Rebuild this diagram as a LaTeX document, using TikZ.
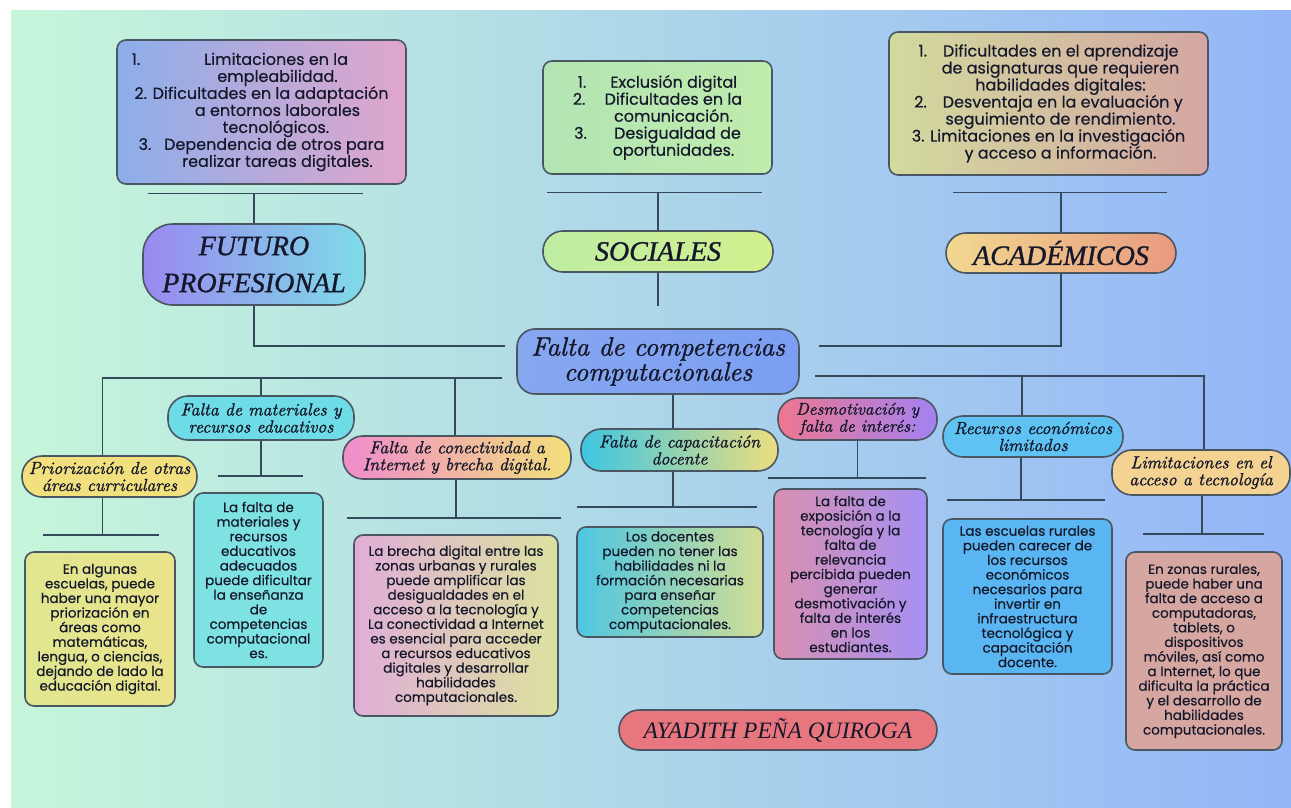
\documentclass[tikz,border=0pt]{standalone}
\usepackage{fontspec}
\usepackage{tikz}
\usetikzlibrary{positioning}
\newfontfamily\bodyfont[FakeBold=0.4]{Poppins}
\newfontfamily\capsfont[FakeBold=1]{Liberation Serif}
\newfontfamily\authfont{Liberation Serif}
\newfontfamily\garfont[FakeBold=1.2]{lmroman10-italic.otf}

\definecolor{bgl}{HTML}{C6F6DA}
\definecolor{bgm}{HTML}{B4DDE8}
\definecolor{bgr}{HTML}{94B6F8}
\definecolor{edgec}{HTML}{4A5662}
\definecolor{linec}{HTML}{34495A}
\definecolor{inkc}{HTML}{15182A}
% box colours
\definecolor{futL}{HTML}{8CAEEA}\definecolor{futR}{HTML}{E0A6CC}
\definecolor{futpL}{HTML}{9A88F0}\definecolor{futpR}{HTML}{7EDCE8}
\definecolor{socL}{HTML}{B2E4B4}\definecolor{socR}{HTML}{C0ECAC}
\definecolor{socpL}{HTML}{BEEDA2}\definecolor{socpR}{HTML}{D2F08E}
\definecolor{acaL}{HTML}{D2DA9E}\definecolor{acaR}{HTML}{D4A6A2}
\definecolor{acapL}{HTML}{F2D890}\definecolor{acapR}{HTML}{E89A80}
\definecolor{ctrL}{HTML}{86A8F0}\definecolor{ctrR}{HTML}{7C9EF2}
\definecolor{priP}{HTML}{F2E07E}\definecolor{priL}{HTML}{E0E690}\definecolor{priR}{HTML}{EAE48A}
\definecolor{matP}{HTML}{6EDCE6}\definecolor{matD}{HTML}{7EE2E2}
\definecolor{conpL}{HTML}{F08CCC}\definecolor{conpR}{HTML}{F2E07A}
\definecolor{conL}{HTML}{E0AED8}\definecolor{conR}{HTML}{DCE29E}
\definecolor{cappL}{HTML}{3EC6E2}\definecolor{cappR}{HTML}{ECDE7E}
\definecolor{capL}{HTML}{4EC6E2}\definecolor{capR}{HTML}{D2DE94}
\definecolor{despL}{HTML}{EE7690}\definecolor{despR}{HTML}{A282F2}
\definecolor{desL}{HTML}{D890B0}\definecolor{desR}{HTML}{A690F4}
\definecolor{recP}{HTML}{5EC2F2}\definecolor{recD}{HTML}{5AB6F2}
\definecolor{limP}{HTML}{F4D292}\definecolor{limD}{HTML}{D6A6A0}
\definecolor{autP}{HTML}{E8767E}

\begin{document}
\begin{tikzpicture}[x=1pt, y=-1pt,
  bar/.style={draw=linec, line width=1.4pt},
  card/.style={draw=edgec, line width=1.6pt, rounded corners=9pt, align=center, inner sep=3pt,
    text=inkc, font=\bodyfont\fontsize{13.5}{14.6}\selectfont},
  topcard/.style={card, font=\bodyfont\fontsize{16}{17}\selectfont},
  pill/.style={draw=edgec, line width=1.6pt, rounded corners=20pt, align=center, inner sep=2pt,
    text=inkc, font=\garfont\fontsize{17.5}{17}\selectfont},
  head/.style={pill, font=\capsfont\fontsize{28}{37}\selectfont\itshape}
]
\useasboundingbox (0,0) rectangle (1291,808);
\fill[left color=bgl, middle color=bgm, right color=bgr] (11,11) rectangle (1291,808);

% consequences
\node[topcard, left color=futL, right color=futR, minimum width=289pt, minimum height=144pt] (futtxt) at (261.5,112)
  {1.\hspace{4em}Limitaciones en la\hspace*{2.7em}\\
   \hspace*{2em}empleabilidad.\\
   2. Dificultades en la adaptación\\
   \hspace*{2em}a entornos laborales\\
   \hspace*{1.8em}tecnológicos.\\
   3.\hspace{0.8em}Dependencia de otros para\\
   \hspace*{2em}realizar tareas digitales.};
\node[head, left color=futpL, right color=futpR, rounded corners=30pt, minimum width=222pt, minimum height=81pt] (fut) at (254,264.5) {FUTURO\\PROFESIONAL};

\node[topcard, left color=socL, right color=socR, minimum width=229pt, minimum height=113pt] (soctxt) at (657.5,117.5)
  {1.\hspace{1.5em}Exclusión digital\\
   2.\hspace{1.2em}Dificultades en la\\
   \hspace*{2em}comunicación.\\
   3.\hspace{1.7em}Desigualdad de\\
   \hspace*{2em}oportunidades.};
\node[head, left color=socpL, right color=socpR, minimum width=230pt, minimum height=41pt] (soc) at (658,251.5) {SOCIALES};

\node[topcard, left color=acaL, right color=acaR, minimum width=319pt, minimum height=143pt] (acatxt) at (1048.5,103.5)
  {1.\hspace{1em}Dificultades en el aprendizaje\\
   \hspace*{1.5em}de asignaturas que requieren\\
   \hspace*{1.5em}habilidades digitales:\\
   2.\hspace{1em}Desventaja en la evaluación y\\
   \hspace*{1.5em}seguimiento de rendimiento.\\
   3. Limitaciones en la investigación\\
   \hspace*{1.5em}y acceso a información.};
\node[head, left color=acapL, right color=acapR, minimum width=230pt, minimum height=40pt] (aca) at (1061,253) {ACADÉMICOS};

% core problem
\node[pill, left color=ctrL, right color=ctrR, rounded corners=18pt, minimum width=282pt, minimum height=65pt,
  font=\garfont\fontsize{26.5}{25}\selectfont] (ctr) at (658,361.5) {Falta de competencias\\computacionales};

% causes
\node[pill, fill=priP, minimum width=175pt, minimum height=41pt] (pri) at (109.5,476.5) {Priorización de otras\\áreas curriculares};
\node[card, left color=priL, right color=priR, minimum width=150pt, minimum height=154pt] (pritxt) at (100,629)
  {En algunas\\ escuelas, puede\\ haber una mayor\\ priorización en\\ áreas como\\ matemáticas,\\ lengua, o ciencias,\\ dejando de lado la\\ educación digital.};

\node[pill, fill=matP, minimum width=186pt, minimum height=44pt] (mat) at (261,418) {Falta de materiales y\\recursos educativos};
\node[card, fill=matD, minimum width=129pt, minimum height=174pt] (mattxt) at (258.5,580)
  {La falta de\\ materiales y\\ recursos\\ educativos\\ adecuados\\ puede dificultar\\ la enseñanza\\ de\\ competencias\\ computacional\\ es.};

\node[pill, left color=conpL, right color=conpR, minimum width=228pt, minimum height=43pt] (con) at (457,457.5) {Falta de conectividad a\\Internet y brecha digital.};
\node[card, left color=conL, right color=conR, minimum width=204pt, minimum height=181pt] (contxt) at (456,625.5)
  {La brecha digital entre las\\ zonas urbanas y rurales\\ puede amplificar las\\ desigualdades en el\\ acceso a la tecnología y\\ La conectividad a Internet\\ es esencial para acceder\\ a recursos educativos\\ digitales y desarrollar\\ habilidades\\ computacionales.};

\node[pill, left color=cappL, right color=cappR, minimum width=197pt, minimum height=42pt] (cap) at (679.5,450) {Falta de capacitación\\docente};
\node[card, left color=capL, right color=capR, minimum width=186pt, minimum height=110pt] (captxt) at (670,582)
  {Los docentes\\ pueden no tener las\\ habilidades ni la\\ formación necesarias\\ para enseñar\\ competencias\\ computacionales.};

\node[pill, left color=despL, right color=despR, minimum width=159pt, minimum height=42pt,
  font=\garfont\fontsize{17}{17}\selectfont] (des) at (857.5,419) {Desmotivación y\\falta de interés:};
\node[card, left color=desL, right color=desR, minimum width=153pt, minimum height=170pt] (destxt) at (850.5,574)
  {La falta de\\ exposición a la\\ tecnología y la\\ falta de\\ relevancia\\ percibida pueden\\ generar\\ desmotivación y\\ falta de interés\\ en los\\ estudiantes.};

\node[pill, fill=recP, minimum width=180pt, minimum height=41pt] (rec) at (1033,436.5) {Recursos económicos\\limitados};
\node[card, fill=recD, minimum width=169pt, minimum height=155pt] (rectxt) at (1027.5,596.5)
  {Las escuelas rurales\\ pueden carecer de\\ los recursos\\ económicos\\ necesarios para\\ invertir en\\ infraestructura\\ tecnológica y\\ capacitación\\ docente.};

\node[pill, fill=limP, minimum width=178pt, minimum height=45pt] (lim) at (1201,472.5) {Limitaciones en el\\acceso a tecnología};
\node[card, fill=limD, minimum width=156pt, minimum height=198pt] (limtxt) at (1204,651)
  {En zonas rurales,\\ puede haber una\\ falta de acceso a\\ computadoras,\\ tablets, o\\ dispositivos\\ móviles, así como\\ a Internet, lo que\\ dificulta la práctica\\ y el desarrollo de\\ habilidades\\ computacionales.};

\node[head, fill=autP, minimum width=318pt, minimum height=40pt, font=\authfont\fontsize{23.5}{26}\selectfont\itshape] (aut) at (778,730) {AYADITH PEÑA QUIROGA};

% upper branches
\draw[bar] (fut.north) ++(-106,-30) -- ++(215,0);
\draw[bar] (fut.north) -- ++(0,-30);
\draw[bar] (fut.south) -- ++(0,40) -- ++(251,0);
\draw[bar] (soc.north) ++(-111,-38) -- ++(215,0);
\draw[bar] (soc.north) -- ++(0,-38);
\draw[bar] (soc.south) -- ++(0,33);
\draw[bar] (aca.north) ++(-108,-40) -- ++(214,0);
\draw[bar] (aca.north) -- ++(0,-40);
\draw[bar] (aca.south) -- ++(0,72) -- ++(-242,0);

% lower branches
\coordinate (lj) at (502,378);
\coordinate (rj) at (815,376);
\draw[bar] (lj) -| ([xshift=-7pt]pri.north);
\draw[bar] (mat.north) -- (mat.north |- lj);
\draw[bar] ([xshift=-2pt]con.north) -- ([xshift=-2pt]con.north |- lj);
\draw[bar] (rj) -| ([xshift=3pt]lim.north);
\draw[bar] ([xshift=-11pt]rec.north) -- ([xshift=-11pt]rec.north |- rj);
\draw[bar] ([xshift=-6.5pt]cap.north) -- ([xshift=-6.5pt]cap.north |- ctr.south);

\draw[bar] ([xshift=-7pt]pri.south) -- ++(0,37) ++(-60,0) -- ++(116,0);
\draw[bar] (mat.south) -- ++(0,35) ++(-43,0) -- ++(85,0);
\draw[bar] ([xshift=-1pt]con.south) -- ++(0,38) ++(-109,0) -- ++(214,0);
\draw[bar] ([xshift=-6.5pt]cap.south) -- ++(0,35) ++(-96,0) -- ++(180,0);
\draw[bar] (des.south) -- ++(0,37) ++(-89.5,0) -- ++(158,0);
\draw[bar] ([xshift=-12pt]rec.south) -- ++(0,42) ++(-74,0) -- ++(158,0);
\draw[bar] ([xshift=1pt]lim.south) -- ++(0,38) ++(-59,0) -- ++(121,0);
\end{tikzpicture}
\end{document}
